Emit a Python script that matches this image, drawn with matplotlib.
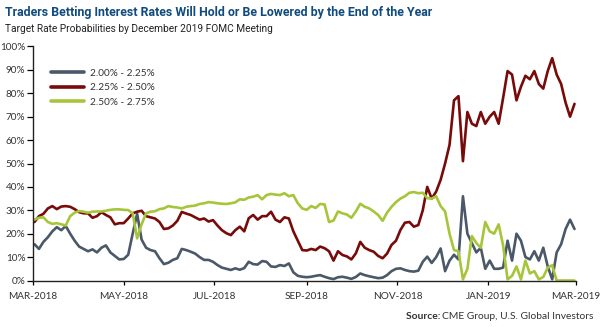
import matplotlib
matplotlib.use("Agg")
import matplotlib.pyplot as plt
import numpy as np
import pandas as pd

# Observation dates: every third day through the year
dates = pd.date_range("2018-03-02", periods=122, freq="3D")

rate_200_225 = [
    15.5, 13.5, 16.5, 18.5, 21.0, 22.8, 21.5, 23.3, 20.0, 17.0,
    14.5, 13.5, 12.5, 13.3, 12.0, 14.0, 15.0, 12.0, 10.5, 9.0,
    9.2, 11.0, 20.0, 28.5, 17.5, 14.0, 13.0, 12.5, 9.5, 7.0,
    7.6, 8.8, 9.5, 13.5, 13.0, 12.3, 11.5, 10.0, 8.8, 8.8,
    8.0, 6.6, 5.5, 5.0, 4.5, 5.2, 4.6, 5.3, 8.0, 7.0,
    6.8, 8.3, 8.0, 6.0, 5.8, 6.6, 6.2, 7.3, 3.5, 2.0,
    1.6, 1.4, 1.6, 2.0, 2.3, 1.6, 1.0, 0.6, 1.4, 1.6,
    1.2, 0.7, 1.5, 3.0, 2.3, 1.8, 1.4, 1.0, 1.2, 2.3,
    4.0, 5.0, 5.2, 4.5, 4.0, 3.8, 4.2, 8.0, 10.2, 7.5,
    10.0, 13.7, 4.0, 8.5, 11.0, 9.0, 36.0, 20.0, 16.0, 12.0,
    14.0, 5.0, 8.5, 5.0, 5.0, 5.5, 17.0, 8.5, 20.0, 17.0,
    10.0, 9.0, 12.5, 8.5, 14.0, 6.0, 0.5, 12.0, 15.5, 22.0,
    26.0, 22.0,
]

rate_225_250 = [
    25.0, 27.5, 28.5, 30.8, 31.8, 30.5, 31.6, 31.8, 31.5, 30.5,
    29.2, 28.7, 28.7, 26.8, 27.5, 29.2, 28.0, 27.0, 24.0, 24.5,
    24.5, 26.5, 28.7, 29.4, 29.8, 27.5, 27.0, 26.5, 25.0, 22.0,
    22.3, 23.5, 25.5, 29.3, 28.6, 28.0, 27.0, 26.0, 26.5, 25.2,
    25.8, 23.5, 21.5, 20.2, 19.4, 21.5, 23.0, 21.0, 26.6, 28.0,
    26.0, 27.5, 27.5, 29.4, 26.0, 25.0, 27.0, 26.5, 21.0, 17.0,
    13.0, 12.8, 13.5, 13.0, 14.5, 13.8, 12.5, 8.5, 12.5, 10.9,
    10.3, 9.0, 11.6, 16.5, 14.0, 13.0, 12.3, 10.5, 9.5, 11.5,
    15.2, 17.0, 21.6, 24.7, 25.0, 23.0, 23.7, 30.0, 40.0, 35.0,
    38.0, 43.0, 50.0, 58.0, 77.0, 78.8, 51.0, 72.0, 67.0, 66.0,
    72.0, 67.0, 70.0, 72.0, 67.0, 78.0, 89.5, 88.0, 77.0, 82.8,
    87.5, 86.0, 89.5, 84.0, 82.0, 89.5, 95.0, 88.0, 84.0, 76.0,
    70.0, 75.5,
]

rate_250_275 = [
    26.0, 26.8, 27.0, 25.0, 24.2, 24.5, 24.0, 23.5, 27.5, 29.0,
    29.7, 29.4, 29.0, 29.4, 29.5, 29.5, 29.8, 30.2, 30.4, 30.4,
    30.2, 30.1, 28.7, 18.0, 24.0, 28.7, 29.4, 29.6, 30.5, 30.8,
    31.8, 31.4, 31.2, 30.8, 31.5, 31.8, 32.0, 32.7, 33.0, 33.5,
    33.3, 33.0, 32.8, 32.7, 33.0, 33.4, 34.7, 34.5, 35.5, 35.8,
    36.5, 34.7, 36.5, 37.0, 36.7, 36.5, 37.3, 36.0, 36.5, 33.0,
    30.8, 30.2, 31.8, 31.0, 32.7, 32.5, 25.0, 25.6, 29.5, 28.7,
    28.2, 26.8, 29.5, 32.8, 31.5, 30.8, 29.5, 28.0, 25.5, 29.0,
    31.5, 33.5, 35.0, 36.0, 37.5, 37.8, 37.3, 37.5, 35.2, 35.0,
    36.0, 31.8, 29.5, 20.0, 13.0, 12.5, 0.5, 5.0, 19.0, 16.0,
    14.0, 25.0, 21.0, 20.0, 24.0, 15.0, 0.5, 2.0, 6.0, 0.5,
    8.5, 3.0, 4.0, 0.5, 1.5, 5.5, 6.5, 0.0, 0.0, 0.0,
    0.0, 0.0,
]

series_labels = ["2.00% - 2.25%", "2.25% - 2.50%", "2.50% - 2.75%"]
series_colors = ["#4a5868", "#780a0a", "#a6c53a"]

tick_dates = pd.date_range("2018-03-01", "2019-03-01", freq="2MS")
tick_labels = [d.strftime("%b-%Y").upper() for d in tick_dates]
y_ticks = np.arange(0, 101, 10)

title_text = "Traders Betting Interest Rates Will Hold or Be Lowered by the End of the Year"
subtitle_text = "Target Rate Probabilities by December 2019 FOMC Meeting"

text_color = "#333333"

fig = plt.figure(figsize=(6.0, 3.27), dpi=100)
ax = fig.add_axes([0.055, 0.1422, 0.905, 0.7156])

for values, label, color in zip([rate_200_225, rate_225_250, rate_250_275],
                                series_labels, series_colors):
    ax.plot(dates, values, color=color, lw=1.9, label=label,
            solid_joinstyle="round", solid_capstyle="round")

ax.set_xlim(pd.Timestamp("2018-03-01"), pd.Timestamp("2019-03-01"))
ax.set_ylim(0, 100)
ax.set_yticks(y_ticks)
ax.set_yticklabels([f"{v}%" for v in y_ticks], fontsize=7.2,
                   color=text_color, family="Lato")
ax.set_xticks(tick_dates)
ax.set_xticklabels(tick_labels, fontsize=7.2, color=text_color, family="Lato")
ax.tick_params(axis="y", length=4, width=0.9, pad=1.5)
ax.tick_params(axis="x", length=3, width=0.9, pad=5)
for side in ("top", "right"):
    ax.spines[side].set_visible(False)
for side in ("left", "bottom"):
    ax.spines[side].set_linewidth(1.0)
    ax.spines[side].set_color("#222222")

leg = ax.legend(loc="upper left", bbox_to_anchor=(0.085, 0.79),
                bbox_transform=fig.transFigure, frameon=False,
                prop={"family": "Lato", "size": 7.2},
                handlelength=3.3, handletextpad=0.6, labelspacing=0.55,
                borderpad=0, borderaxespad=0)
for t in leg.get_texts():
    t.set_color(text_color)
for h in leg.get_lines():
    h.set_linewidth(2.6)

title = fig.text(0.009, 0.963, title_text, fontsize=11, fontweight="bold",
                 color="#114b7d", family="Roboto", ha="left", va="center")
subtitle = fig.text(0.009, 0.912, subtitle_text, fontsize=8.6,
                    color="#222222", family="Roboto", ha="left", va="center")

# Fit the heading lines to their target widths (in pixels)
renderer = fig.canvas.get_renderer()
for txt, target in ((title, 430.0), (subtitle, 266.0)):
    w = txt.get_window_extent(renderer).width
    txt.set_fontsize(txt.get_fontsize() * target / w)

src = fig.text(0.99, 0.032, "CME Group, U.S. Global Investors", fontsize=7.4,
               color=text_color, family="Lato", ha="right", va="center")
r = src.get_window_extent(renderer)
fig.text(r.x0 / fig.bbox.width, 0.032, "Source: ", fontsize=7.4,
         fontweight="bold", color=text_color, family="Lato",
         ha="right", va="center")

fig.savefig("out.png", dpi=100)
